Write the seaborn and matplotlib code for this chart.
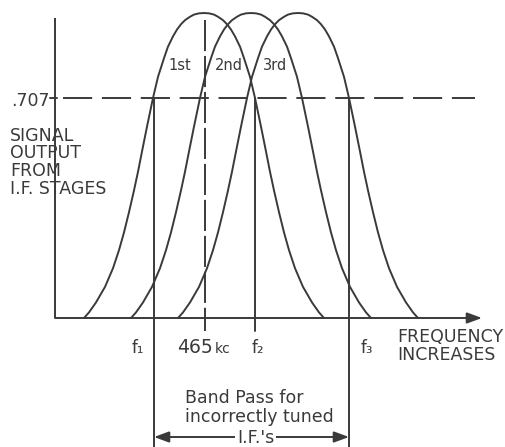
import matplotlib
matplotlib.use("Agg")
import matplotlib.pyplot as plt
import numpy as np
import pandas as pd
import seaborn as sns

# ---- data ----
curve_names = ["1st", "2nd", "3rd"]
curve_centers = [149, 196, 243]          # frequency units (arbitrary)
profile_offsets = [0, 5, 10, 14, 19, 23, 27, 31, 36, 40, 46, 51, 57, 62, 66, 70, 75,
                   80, 85, 91, 99, 108, 115, 120]
profile_levels = [0.98, 0.979, 0.975, 0.968, 0.957, 0.944, 0.927, 0.905, 0.872, 0.835,
                  0.775, 0.707, 0.615, 0.535, 0.47, 0.41, 0.34, 0.275, 0.218, 0.16,
                  0.10, 0.05, 0.018, 0.0]
half_power_level = 0.707
half_power_label = ".707"
freq_labels = ["f₁", "465", "f₂", "f₃"]
freq_positions = [99, 150, 200, 294]
ylabel_lines = ["SIGNAL", "OUTPUT", "FROM", "I.F. STAGES"]
xlabel_lines = ["FREQUENCY", "INCREASES"]
band_lines = ["Band Pass for", "incorrectly tuned"]
band_arrow_label = "I.F.'s"

# ---- build table ----
rows = []
for name, c in zip(curve_names, curve_centers):
    for off, lev in zip(profile_offsets[::-1], profile_levels[::-1]):
        rows.append((name, c - off, lev))
    for off, lev in zip(profile_offsets[1:], profile_levels[1:]):
        rows.append((name, c + off, lev))
df = pd.DataFrame(rows, columns=["curve", "freq", "level"])

sns.set_style("white")
plt.rcParams["font.family"] = ["DejaVu Sans"]
ink = "#3a3a3a"
LW = 1.4

fig = plt.figure(figsize=(5.05, 4.47), dpi=100)
ax = fig.add_axes([0, 0, 1, 1])
ax.set_xlim(-55, 450)
ax.set_ylim(-(447 - 318) / 311.2, 318 / 311.2)
ax.axis("off")

def px(x, y):
    return (x - 55, (318 - y) / 311.2)

sns.lineplot(data=df, x="freq", y="level", units="curve", estimator=None, sort=False,
             color=ink, lw=LW, ax=ax, legend=False)

# y axis
ax.plot([0, 0], [0, px(0, 18)[1]], color=ink, lw=LW, solid_capstyle="butt")
ax.plot([-5, 2], [half_power_level] * 2, color=ink, lw=LW)
# x axis with arrow
ax.annotate("", xy=(px(482, 0)[0], 0), xytext=(0, 0),
            arrowprops=dict(arrowstyle="-|>,head_length=0.6,head_width=0.22",
                            mutation_scale=15, lw=LW, color=ink,
                            shrinkA=0, shrinkB=0))

# .707 dashed line
ax.plot([px(63, 0)[0], px(475, 0)[0]], [half_power_level] * 2, color=ink, lw=LW,
        linestyle=(0, (15, 5)))
ax.text(px(50, 0)[0], px(0, 106)[1], half_power_label, ha="right", va="baseline",
        fontsize=12.5, color=ink)

# vertical marker lines
f1, f465, f2, f3 = freq_positions
bottom = px(0, 447)[1]
below = px(0, 331)[1]
ax.plot([f1, f1], [half_power_level, bottom], color=ink, lw=LW)
ax.plot([f3, f3], [half_power_level, bottom], color=ink, lw=LW)
ax.plot([f2, f2], [half_power_level, below], color=ink, lw=LW)
ax.plot([f465, f465], [px(0, 20)[1], below], color=ink, lw=LW, linestyle=(0, (16, 2.5)))

# y label
for line, by in zip(ylabel_lines, [141, 158, 176, 194]):
    ax.text(px(10, 0)[0], px(0, by)[1], line, ha="left", va="baseline",
            fontsize=12.5, color=ink)
# x label
for line, by in zip(xlabel_lines, [342, 360]):
    ax.text(px(397, 0)[0], px(0, by)[1], line, ha="left", va="baseline",
            fontsize=12.5, color=ink)

# frequency labels
fy = px(0, 353)[1]
ax.text(f1 - 10, fy, freq_labels[0], ha="right", va="baseline", fontsize=12, color=ink)
ax.text(f465 + 8, fy, freq_labels[1], ha="right", va="baseline", fontsize=13.5, color=ink)
ax.text(f465 + 10, fy, "kc", ha="left", va="baseline", fontsize=10, color=ink)
ax.text(f2 - 3, fy, freq_labels[2], ha="left", va="baseline", fontsize=12, color=ink)
ax.text(f3 + 12, fy, freq_labels[3], ha="left", va="baseline", fontsize=12, color=ink)

# curve labels
for name, lx in zip(curve_names, [168, 215, 263]):
    ax.text(px(lx, 0)[0], px(0, 70)[1], name, ha="left", va="baseline",
            fontsize=10.5, color=ink)

# band pass text
for line, by in zip(band_lines, [403, 422]):
    ax.text(px(185, 0)[0], px(0, by)[1], line, ha="left", va="baseline",
            fontsize=12.5, color=ink)
ay = px(0, 437)[1]
ax.annotate("", xy=(f1, ay), xytext=(f3, ay),
            arrowprops=dict(arrowstyle="<|-|>,head_length=0.6,head_width=0.22",
                            mutation_scale=15, lw=LW, color=ink,
                            shrinkA=0, shrinkB=0))
ax.text((f1 + f3) / 2 + 4, px(0, 443)[1], band_arrow_label, ha="center", va="baseline",
        fontsize=12.5, color=ink,
        bbox=dict(facecolor="white", edgecolor="none", pad=1.5))

fig.savefig("out.png", dpi=100, facecolor="white")
